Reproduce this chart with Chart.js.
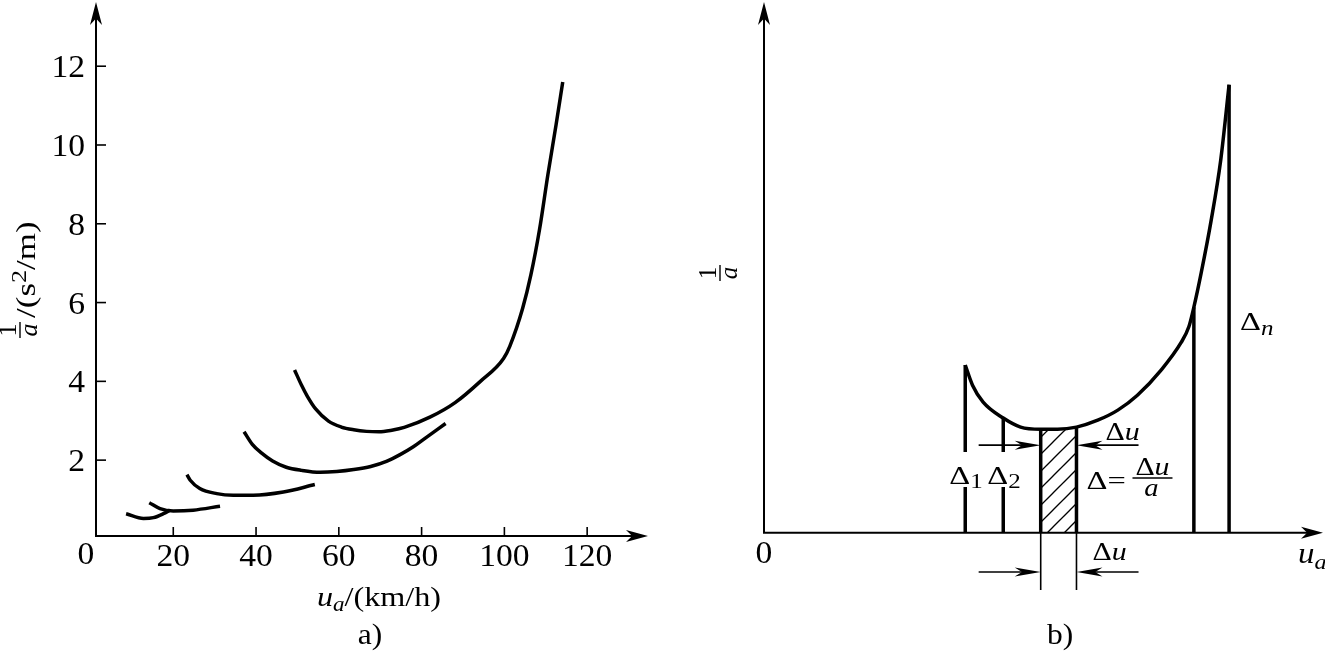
<!DOCTYPE html>
<html>
<head>
<meta charset="utf-8">
<script src="https://cdn.jsdelivr.net/npm/chart.js@4.4.1/dist/chart.umd.min.js"></script>
<style>
  html, body { margin: 0; padding: 0; background: #fff; }
  #lienzo { position: relative; width: 1325px; height: 653px; overflow: hidden; }
  canvas { position: absolute; top: 0; }
</style>
</head>
<body>
<div id="lienzo">
  <canvas id="graficoA" width="662" height="653" style="left:0"></canvas>
  <canvas id="graficoB" width="663" height="653" style="left:662px"></canvas>
</div>
<script>
// ==========================================
// DATOS  a) 1/a frente a ua (km/h), una curva por marcha
// ==========================================
const marcha1 = [[8.6, 0.64], [12.8, 0.52], [15.2, 0.54], [17.6, 0.64], [19.2, 0.73]];
const marcha2 = [[14.2, 0.92], [16.8, 0.77], [20.0, 0.71], [24.8, 0.73], [31.3, 0.83]];
const marcha3 = [[23.3, 1.63], [24.1, 1.49], [26.4, 1.28], [30.5, 1.15], [34.5, 1.11], [39.3, 1.11], [46.6, 1.19], [54.2, 1.38]];
const marcha4 = [[37.1, 2.72], [39.1, 2.40], [41.2, 2.19], [44.0, 1.98], [47.3, 1.82], [51.0, 1.74], [55.5, 1.69], [59.5, 1.71], [63.6, 1.76], [67.7, 1.84], [71.5, 1.97], [74.8, 2.14], [78.0, 2.34], [80.9, 2.56], [85.8, 2.93]];
const marcha5 = [[49.3, 4.29], [51.0, 3.90], [52.4, 3.62], [54.4, 3.30], [57.5, 2.99], [60.6, 2.84], [63.6, 2.77], [66.7, 2.73], [69.7, 2.72], [72.8, 2.76], [75.8, 2.83], [82.0, 3.09], [88.1, 3.46], [94.2, 4.00], [99.8, 4.58], [101.3, 4.89], [104.4, 5.85], [106.4, 6.70], [108.5, 7.86], [110.5, 9.24], [112.5, 10.52], [114.1, 11.6]];
const ticksXA = [20, 40, 60, 80, 100, 120];
const ticksYA = [2, 4, 6, 8, 10, 12];

// b) esquema (unidades arbitrarias 0-100)
const curvaB = [[36.0, 31.6], [37.3, 27.8], [39.2, 24.6], [42.8, 21.6], [45.9, 19.9], [49.5, 19.5], [52.5, 19.5], [55.9, 19.9], [59.7, 21.2], [63.3, 23.1], [66.8, 25.9], [71.0, 30.6], [74.6, 35.8], [76.0, 38.8], [76.9, 42.5], [78.2, 48.9], [80.0, 58.9], [81.7, 70.2], [83.2, 84.4]];
const franjasX = [36.0, 42.8, 49.5, 55.9, 76.9, 83.2];   // Δ1, Δ2, bordes de la franja rayada, Δn-1, Δn
const franjaRayada = [49.5, 55.9];
const huecoEtiqueta = [8.6, 15.2];                       // hueco en Δ1 y Δ2 para su rótulo
const cotaDu = [16.5, -7.4];                             // alturas de las dos cotas Δu
const cotaExtremos = [38.4, 67.0];
const lineaBajoEje = -10.8;

const SERIF = '"Liberation Serif", "Times New Roman", serif';

// ==========================================
// utilidades de dibujo
// ==========================================
function flecha(ctx, x, y, ang, largo, medio) {
    ctx.save();
    ctx.translate(x, y);
    ctx.rotate(ang);
    ctx.beginPath();
    ctx.moveTo(0, 0);
    ctx.lineTo(-largo, -medio);
    ctx.lineTo(-largo * 0.72, 0);
    ctx.lineTo(-largo, medio);
    ctx.closePath();
    ctx.fill();
    ctx.restore();
}

function linea(ctx, x1, y1, x2, y2) {
    ctx.beginPath();
    ctx.moveTo(x1, y1);
    ctx.lineTo(x2, y2);
    ctx.stroke();
}

// trozos: [texto, fuente, desplazamiento vertical]; escribe seguido desde x
function trozos(ctx, partes, x, y, alinear, sx) {
    sx = sx || 1;
    let total = 0;
    partes.forEach(p => { ctx.font = p[1]; total += ctx.measureText(p[0]).width * sx; });
    let cx = alinear === 'center' ? x - total / 2 : x;
    ctx.textAlign = 'left';
    ctx.textBaseline = 'alphabetic';
    partes.forEach(p => {
        ctx.font = p[1];
        ctx.save();
        ctx.translate(cx, y + (p[2] || 0));
        ctx.scale(sx, 1);
        ctx.fillText(p[0], 0, 0);
        ctx.restore();
        cx += ctx.measureText(p[0]).width * sx;
    });
    return total;
}

// fracción 1/a girada 90°, con la barra en la x de pantalla bx y centrada en cy
function fraccionGirada(ctx, bx, cy, tam) {
    ctx.save();
    ctx.translate(bx, cy);
    ctx.rotate(-Math.PI / 2);
    ctx.textAlign = 'center';
    ctx.textBaseline = 'alphabetic';
    ctx.font = tam + 'px ' + SERIF;
    ctx.fillText('1', 0, -4);
    ctx.font = 'italic ' + tam + 'px ' + SERIF;
    ctx.fillText('a', 0, tam * 0.66);
    ctx.lineWidth = 1.4;
    linea(ctx, -8, 0, 8, 0);
    ctx.restore();
}

const sinEscalas = {
    x: { type: 'linear', display: false },
    y: { type: 'linear', display: false }
};

// ==========================================
// a) curvas por marcha
// ==========================================
const ejesA = {
    id: 'ejesA',
    afterDraw(chart) {
        const { ctx, chartArea: ca, scales: { x, y } } = chart;
        ctx.save();
        ctx.strokeStyle = '#000';
        ctx.fillStyle = '#000';
        ctx.lineWidth = 2;
        ctx.beginPath();
        ctx.moveTo(ca.left, ca.top + 12);
        ctx.lineTo(ca.left, ca.bottom);
        ctx.lineTo(ca.right - 12, ca.bottom);
        ctx.stroke();
        flecha(ctx, ca.left, ca.top, -Math.PI / 2, 23, 6);
        flecha(ctx, ca.right, ca.bottom, 0, 22, 6);

        ctx.lineWidth = 1.6;
        const fTick = '32px ' + SERIF;
        ticksXA.forEach(v => {
            const px = x.getPixelForValue(v);
            linea(ctx, px, ca.bottom, px, ca.bottom - 9);
            trozos(ctx, [[String(v), fTick]], px, ca.bottom + 30, 'center', 1.05);
        });
        trozos(ctx, [['0', fTick]], ca.left - 10, ca.bottom + 28, 'center', 1.05);
        ticksYA.forEach(v => {
            const py = y.getPixelForValue(v);
            linea(ctx, ca.left, py, ca.left + 10, py);
            ctx.font = fTick;
            const w = ctx.measureText(String(v)).width * 1.05;
            trozos(ctx, [[String(v), fTick]], ca.left - 11 - w, py + 11, 'left', 1.05);
        });

        // título eje x
        trozos(ctx, [
            ['u', 'italic 28px ' + SERIF, 0],
            ['a', 'italic 20px ' + SERIF, 5],
            ['/(km/h)', '28px ' + SERIF, 0]
        ], 379, 606, 'center', 1.15);
        trozos(ctx, [['a)', '30px ' + SERIF]], 370, 644, 'center', 1.05);

        // título eje y (girado)
        fraccionGirada(ctx, 20, 330, 26);
        ctx.save();
        ctx.translate(35, 318);
        ctx.rotate(-Math.PI / 2);
        trozos(ctx, [
            ['/(s', '28px ' + SERIF, 0],
            ['2', '21px ' + SERIF, -9],
            ['/m)', '28px ' + SERIF, 0]
        ], 0, 0, 'left', 1.25);
        ctx.restore();
        ctx.restore();
    }
};

const estiloCurva = {
    borderColor: '#000',
    borderWidth: 3.5,
    pointRadius: 0,
    fill: false,
    cubicInterpolationMode: 'monotone'
};

new Chart(document.getElementById('graficoA'), {
    type: 'line',
    data: {
        datasets: [marcha1, marcha2, marcha3, marcha4, marcha5].map(m => ({
            ...estiloCurva,
            data: m.map(([u, v]) => ({ x: u, y: v }))
        }))
    },
    options: {
        responsive: false,
        animation: false,
        devicePixelRatio: 1,
        events: [],
        layout: { padding: { left: 96, right: 14, top: 2, bottom: 117 } },
        scales: {
            x: { ...sinEscalas.x, min: 1.33, max: 134.7 },
            y: { ...sinEscalas.y, min: 0.074, max: 13.63 }
        },
        plugins: { legend: { display: false }, tooltip: { enabled: false } }
    },
    plugins: [ejesA]
});

// ==========================================
// b) esquema de integración gráfica
// ==========================================
const lienzoB = document.getElementById('graficoB');
const trama = document.createElement('canvas');
trama.width = trama.height = 17;
const tctx = trama.getContext('2d');
tctx.strokeStyle = '#000';
tctx.lineWidth = 1.3;
linea(tctx, -2, 19, 19, -2);
linea(tctx, -2, 2, 2, -2);
linea(tctx, 15, 19, 19, 15);
const patronRayado = lienzoB.getContext('2d').createPattern(trama, 'repeat');

const alturaEn = u => curvaB.find(p => p[0] === u)[1];

const ejesB = {
    id: 'ejesB',
    afterDraw(chart) {
        const { ctx, chartArea: ca, scales: { x, y } } = chart;
        ctx.save();
        ctx.strokeStyle = '#000';
        ctx.fillStyle = '#000';
        ctx.lineWidth = 2;
        ctx.beginPath();
        ctx.moveTo(ca.left, ca.top + 12);
        ctx.lineTo(ca.left, ca.bottom);
        ctx.lineTo(ca.right - 12, ca.bottom);
        ctx.stroke();
        flecha(ctx, ca.left, ca.top, -Math.PI / 2, 23, 6);
        flecha(ctx, ca.right, ca.bottom, 0, 22, 6);

        // prolongación de la franja bajo el eje y cotas Δu
        const xL = x.getPixelForValue(franjaRayada[0]);
        const xR = x.getPixelForValue(franjaRayada[1]);
        ctx.lineWidth = 1.6;
        linea(ctx, xL, ca.bottom, xL, y.getPixelForValue(lineaBajoEje));
        linea(ctx, xR, ca.bottom, xR, y.getPixelForValue(lineaBajoEje));
        cotaDu.forEach(v => {
            const py = y.getPixelForValue(v);
            linea(ctx, x.getPixelForValue(cotaExtremos[0]), py, xL - 10, py);
            linea(ctx, xR + 10, py, x.getPixelForValue(cotaExtremos[1]), py);
            flecha(ctx, xL, py, 0, 26, 4.5);
            flecha(ctx, xR, py, Math.PI, 26, 4.5);
        });

        const f26 = '26px ' + SERIF, i26 = 'italic 26px ' + SERIF;
        const f19 = '20px ' + SERIF, i19 = 'italic 20px ' + SERIF;
        const sx = 1.25;
        // cota superior e inferior
        trozos(ctx, [['Δ', f26], ['u', i26]], xR + 29, y.getPixelForValue(cotaDu[0]) - 5, 'left', 1.15);
        trozos(ctx, [['Δ', f26], ['u', i26]], xR + 16, y.getPixelForValue(cotaDu[1]) - 12, 'left', 1.15);
        // Δ1, Δ2
        const p1 = x.getPixelForValue(franjasX[0]), p2 = x.getPixelForValue(franjasX[1]);
        trozos(ctx, [['Δ', f26], ['1', f19, 4]], p1 - 16, 484, 'left', sx);
        trozos(ctx, [['Δ', f26], ['2', f19, 4]], p2 - 16, 484, 'left', sx);
        // Δ = Δu / a
        trozos(ctx, [['Δ', f26], ['=', f26]], xR + 10, 489, 'left', sx);
        trozos(ctx, [['Δ', f26], ['u', i26]], xR + 76, 475, 'center', 1.15);
        ctx.lineWidth = 1.4;
        linea(ctx, xR + 56, 478, xR + 96, 478);
        trozos(ctx, [['a', i26]], xR + 75, 496, 'center', 1.1);
        // Δn
        const pn = x.getPixelForValue(franjasX[5]);
        trozos(ctx, [['Δ', f26], ['n', i19, 5]], pn + 11, 330, 'left', sx);

        // rótulos de ejes
        trozos(ctx, [['0', '32px ' + SERIF]], ca.left, ca.bottom + 30, 'center', 1.05);
        trozos(ctx, [['u', 'italic 30px ' + SERIF], ['a', 'italic 22px ' + SERIF, 6]], ca.right - 25, 563, 'left', 1.1);
        fraccionGirada(ctx, ca.left - 44, 273, 25);
        trozos(ctx, [['b)', '30px ' + SERIF]], 1060 - 662, 644, 'center', 1.05);
        ctx.restore();
    }
};

const lineaNegra = { borderColor: '#000', borderWidth: 3.5, pointRadius: 0, fill: false };

const verticales = franjasX.map((u, i) => {
    const top = alturaEn(u);
    const pts = i < 2
        ? [{ x: u, y: 0 }, { x: u, y: huecoEtiqueta[0] }, { x: u, y: null }, { x: u, y: huecoEtiqueta[1] }, { x: u, y: top }]
        : [{ x: u, y: 0 }, { x: u, y: top }];
    return { ...lineaNegra, data: pts };
});

new Chart(lienzoB, {
    type: 'line',
    data: {
        datasets: [
            { ...lineaNegra, cubicInterpolationMode: 'monotone', data: curvaB.map(([u, v]) => ({ x: u, y: v })) },
            ...verticales,
            {
                data: curvaB.filter(p => p[0] >= franjaRayada[0] && p[0] <= franjaRayada[1]).map(([u, v]) => ({ x: u, y: v })),
                fill: 'origin',
                backgroundColor: patronRayado,
                borderColor: 'rgba(0,0,0,0)',
                borderWidth: 0,
                pointRadius: 0
            }
        ]
    },
    options: {
        responsive: false,
        animation: false,
        devicePixelRatio: 1,
        events: [],
        layout: { padding: { left: 102, right: 2, top: 2, bottom: 120.3 } },
        scales: {
            x: { ...sinEscalas.x, min: 0, max: 100 },
            y: { ...sinEscalas.y, min: 0, max: 100 }
        },
        plugins: { legend: { display: false }, tooltip: { enabled: false } }
    },
    plugins: [ejesB]
});
</script>
</body>
</html>
